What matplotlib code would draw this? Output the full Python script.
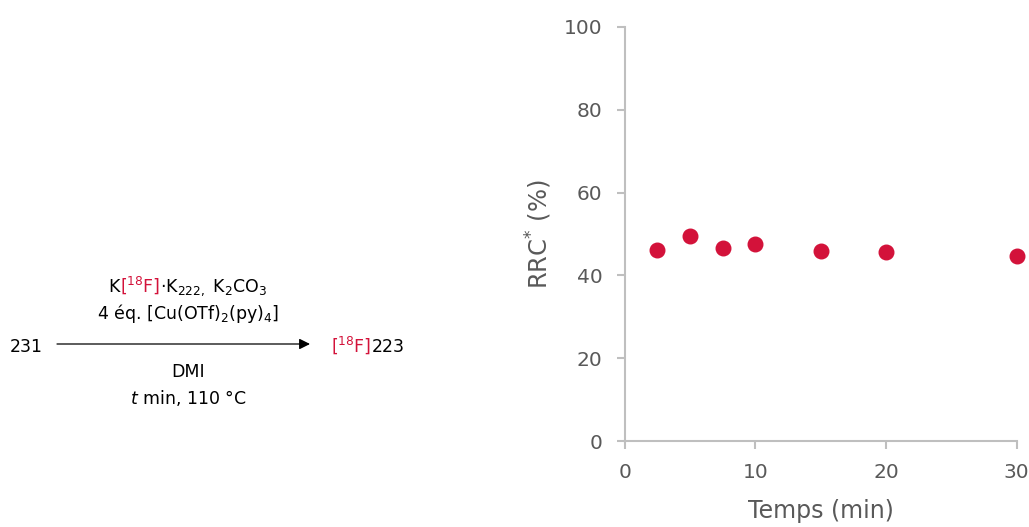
import matplotlib.pyplot as plt

# RRC* vs reaction time
temps = [2.5, 5, 7.5, 10, 15, 20, 30]
rrc = [46.2, 49.4, 46.7, 47.7, 46.0, 45.7, 44.6]

x_ticks = [0, 10, 20, 30]
y_ticks = [0, 20, 40, 60, 80, 100]

rouge = '#D3123A'
gris_axe = '#BFBFBF'
gris_txt = '#595959'

plt.rcParams['font.family'] = ['DejaVu Sans']
plt.rcParams['mathtext.default'] = 'regular'

fig = plt.figure(figsize=(10.29, 5.27), dpi=100)

#################################################################################################
# Reaction scheme (left half, pixel-like coordinates)
W, H = 514.5, 527
axs = fig.add_axes([0, 0, 0.5, 1])
axs.set_xlim(0, W)
axs.set_ylim(H, 0)
axs.axis('off')

renderer = fig.canvas.get_renderer()


def pieces(x, y, parts, ha='center', size=12.5):
    # draw a line made of several coloured chunks, baseline aligned
    txts = [axs.text(0, y, s, color=c, fontsize=size, va='baseline', ha='left')
            for s, c in parts]
    widths = [t.get_window_extent(renderer).width for t in txts]
    x0 = x - sum(widths) / 2 if ha == 'center' else x
    for t, w in zip(txts, widths):
        t.set_x(x0)
        x0 += w


cx = 188
pieces(cx, 292, [('K', 'black'), ('[$^{18}$F]', rouge),
                 ('·K$_{222,}$ K$_2$CO$_3$', 'black')])
pieces(cx, 319, [('4 éq. [Cu(OTf)$_2$(py)$_4$]', 'black')])
pieces(cx, 377, [('DMI', 'black')])
pieces(cx, 404, [('$\\mathit{t}$ min, 110 °C', 'black')])
pieces(10, 352, [('231', 'black')], ha='left')
pieces(331, 352, [('[$^{18}$F]', rouge), ('223', 'black')], ha='left')

axs.annotate('', xy=(310, 344), xytext=(57, 344),
             arrowprops=dict(arrowstyle='-|>', color='black', lw=0.9,
                             mutation_scale=16, shrinkA=0, shrinkB=0))

#################################################################################################
# Scatter plot
ax = fig.add_axes([0.607, 0.163, 0.381, 0.786])
ax.scatter(temps, rrc, s=110, color=rouge, zorder=3, clip_on=False)
ax.set_xlim(0, 30)
ax.set_ylim(0, 100)
ax.set_xticks(x_ticks)
ax.set_yticks(y_ticks)

for side in ['top', 'right']:
    ax.spines[side].set_visible(False)
for side in ['left', 'bottom']:
    ax.spines[side].set_color(gris_axe)
    ax.spines[side].set_linewidth(1.5)

ax.tick_params(axis='both', colors=gris_axe, width=1.5, length=6,
               labelcolor=gris_txt, labelsize=14.5, pad=10)
ax.set_xlabel('Temps (min)', fontsize=17, color=gris_txt, labelpad=12)
ax.set_ylabel('RRC$^{*}$ (%)', fontsize=17.5, color=gris_txt, labelpad=7)

plt.savefig('out.png', dpi=100)
